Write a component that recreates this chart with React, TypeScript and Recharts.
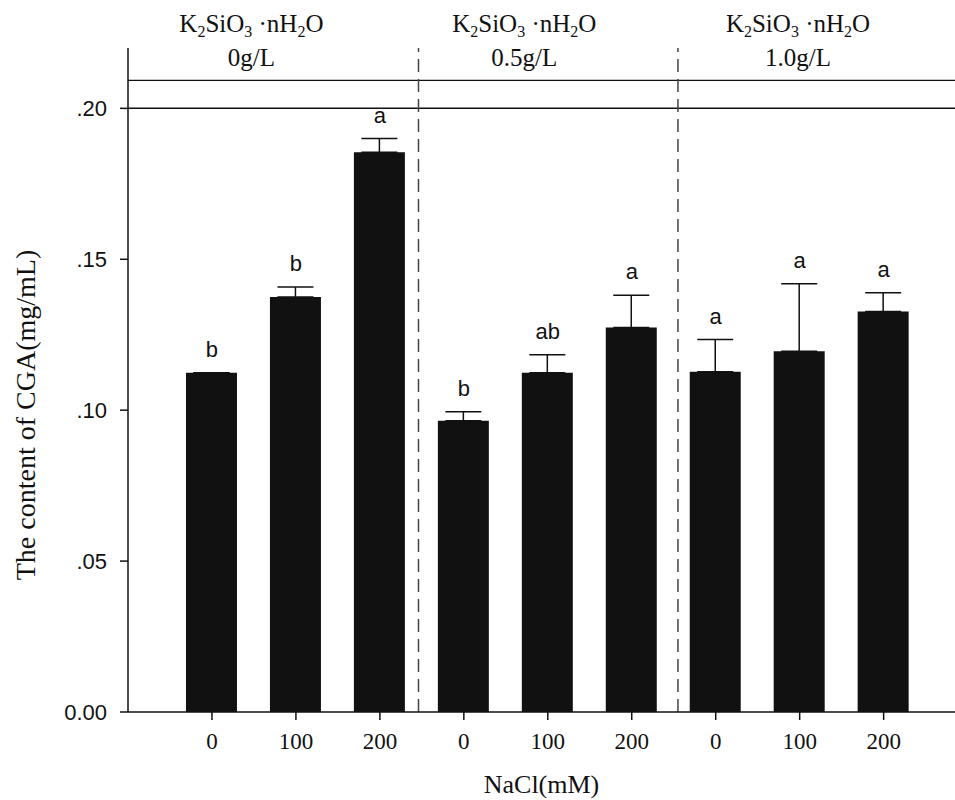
import React from 'react';
import {
  ComposedChart, Bar, Line, XAxis, YAxis, ErrorBar, LabelList, ReferenceLine, ReferenceDot,
} from 'recharts';

// NaCl (mM) for each bar, in order
const naclLabels = ['0', '100', '200', '0', '100', '200', '0', '100', '200'];
// CGA content (mg/mL)
const cgaMeans = [0.1124, 0.1375, 0.1855, 0.0965, 0.1124, 0.1274, 0.1127, 0.1195, 0.1327];
const cgaErrors = [0.0, 0.0033, 0.0045, 0.003, 0.006, 0.0107, 0.0107, 0.0224, 0.0062];
const sigLetters = ['b', 'b', 'a', 'b', 'ab', 'a', 'a', 'a', 'a'];
// K2SiO3·nH2O dose per group
const siliconDoses = ['0g/L', '0.5g/L', '1.0g/L'];
const yTicks = [0, 0.05, 0.1, 0.15, 0.2];

// layout on the numeric x axis (bar i sits at i + 1)
const headerX = [1.47, 4.72, 7.98];
const separatorX = [3.46, 6.55];
const headerLineY = 0.2093;

const data = cgaMeans.map((m, i) => ({
  pos: i + 1,
  mean: m,
  err: [0, cgaErrors[i]],
  top: m + cgaErrors[i],
  letter: sigLetters[i],
}));

const serif = '"Liberation Serif", "Times New Roman", serif';
const sans = '"Liberation Sans", Arial, sans-serif';
const ink = '#111';

const HeaderLabel = (props: any) => {
  const { viewBox, name } = props;
  const cx = viewBox.x + (viewBox.width || 0) / 2;
  const cy = viewBox.y + (viewBox.height || 0) / 2;
  const sub = { fontSize: 16 };
  return (
    <g fontFamily={serif} fontSize={25} fill={ink}>
      <text x={cx} y={cy - 48} textAnchor="middle">
        K<tspan {...sub} dy={5}>2</tspan>
        <tspan dy={-5}>SiO</tspan>
        <tspan {...sub} dy={5}>3</tspan>
        <tspan dy={-5}>{' \u00b7nH'}</tspan>
        <tspan {...sub} dy={5}>2</tspan>
        <tspan dy={-5}>O</tspan>
      </text>
      <text x={cx} y={cy - 14} textAnchor="middle">{name}</text>
    </g>
  );
};

const YLabel = (props: any) => {
  const { viewBox } = props;
  const x = viewBox.x + 35;
  const y = viewBox.y + viewBox.height / 2 + 35;
  return (
    <text x={x} y={y} transform={`rotate(-90, ${x}, ${y})`} textAnchor="middle"
      fontFamily={serif} fontSize={28} fill={ink}>
      The content of CGA(mg/mL)
    </text>
  );
};

const fmtY = (v: number) => (v === 0 ? '0.00' : v.toFixed(2).replace(/^0/, ''));

export default function App() {
  return (
    <div style={{ position: 'absolute', left: 0, top: 0, background: '#fff' }}>
      <ComposedChart width={955} height={800} data={data} margin={{ top: 48, right: 0, bottom: 0, left: 0 }}>
        <XAxis
          type="number"
          dataKey="pos"
          domain={[0, 9.85]}
          ticks={[1, 2, 3, 4, 5, 6, 7, 8, 9]}
          interval={0}
          tickFormatter={(v: number) => naclLabels[v - 1]}
          height={88}
          tickSize={8}
          tickMargin={13}
          stroke={ink}
          strokeWidth={1.5}
          tick={{ fill: ink, fontFamily: serif, fontSize: 23 }}
          label={{ value: 'NaCl(mM)', position: 'insideBottom', offset: 7, fill: ink, fontFamily: serif, fontSize: 26 }}
        />
        <YAxis
          type="number"
          domain={[0, 0.22]}
          ticks={yTicks}
          tickFormatter={fmtY}
          width={128}
          tickSize={8}
          tickMargin={13}
          stroke={ink}
          strokeWidth={1.5}
          tick={{ fill: ink, fontFamily: sans, fontSize: 22 }}
          label={{ content: (p: any) => <YLabel {...p} /> }}
        />
        <ReferenceLine y={0.2} stroke={ink} strokeWidth={1.5} />
        <ReferenceLine y={headerLineY} stroke={ink} strokeWidth={1.2} />
        {separatorX.map((x) => (
          <ReferenceLine key={x} x={x} stroke="#444" strokeWidth={1.5} strokeDasharray="13 7" />
        ))}
        {siliconDoses.map((name, i) => (
          <ReferenceDot
            key={name}
            x={headerX[i]}
            y={headerLineY}
            r={0}
            stroke="none"
            fill="none"
            label={(p: any) => <HeaderLabel {...p} name={name} />}
          />
        ))}
        <Bar dataKey="mean" fill={ink} barSize={51} isAnimationActive={false}>
          <ErrorBar dataKey="err" direction="y" width={18} stroke={ink} strokeWidth={1.5} isAnimationActive={false} />
        </Bar>
        <Line dataKey="top" stroke="none" dot={false} activeDot={false} legendType="none" isAnimationActive={false}>
          <LabelList dataKey="letter" position="top" offset={16} fill={ink} fontFamily={sans} fontSize={22} />
        </Line>
      </ComposedChart>
    </div>
  );
}
